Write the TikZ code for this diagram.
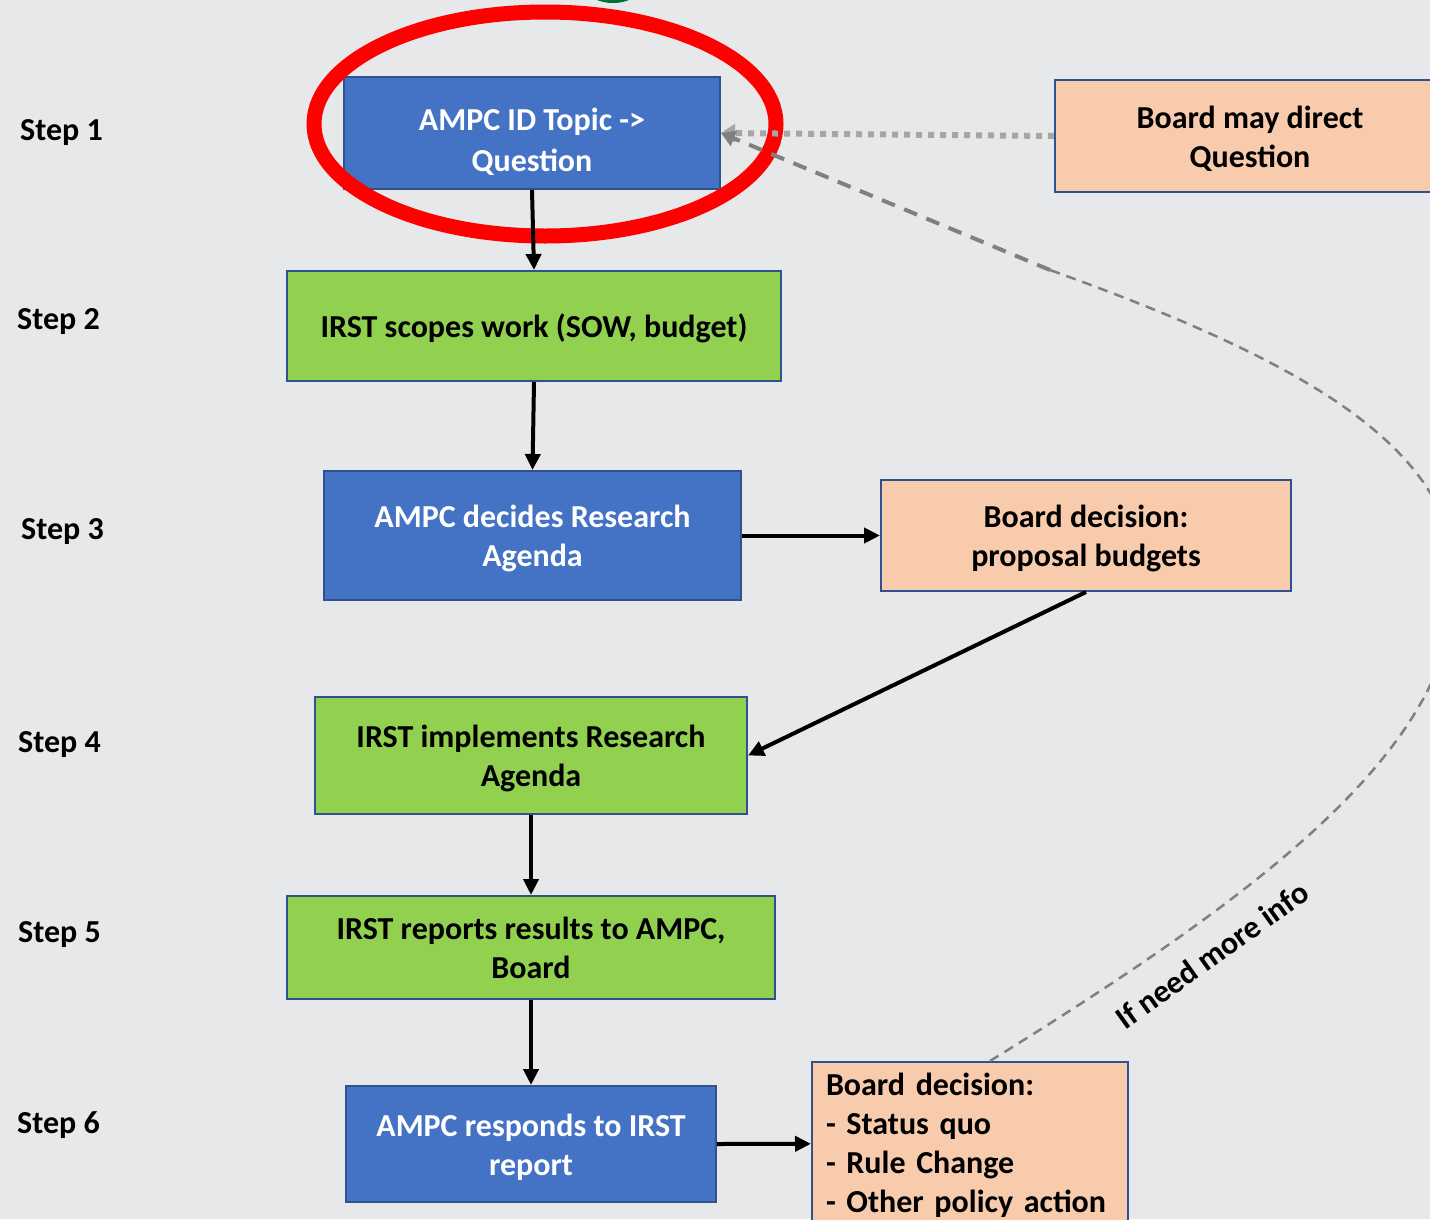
\documentclass[tikz,border=0pt]{standalone}
\usepackage{fontspec}
\setmainfont{Carlito}
\usetikzlibrary{arrows.meta}
\definecolor{bg}{RGB}{231,232,234}
\definecolor{bluefill}{RGB}{68,114,196}
\definecolor{boxline}{RGB}{47,82,143}
\definecolor{greenfill}{RGB}{146,208,80}
\definecolor{peach}{RGB}{248,203,173}
\definecolor{dotgray}{RGB}{166,166,166}
\definecolor{dashgray}{RGB}{128,128,128}
\definecolor{darkgreen}{RGB}{0,112,60}
\newcommand{\boxtext}[2][4pt]{\raisebox{-#1}[\height][\depth]{\begin{tabular}{@{}c@{}}#2\end{tabular}}}
\newcommand{\boxtextl}[2][2pt]{\raisebox{-#1}[\height][\depth]{\begin{tabular}{@{}l@{}}#2\end{tabular}}}
\begin{document}
\begin{tikzpicture}[x=1pt,y=-1pt,
  txt/.style={font=\fontsize{32}{39}\selectfont\bfseries},
  box/.style={txt, draw=boxline, line width=2pt, inner sep=0pt},
  bluebox/.style={box, fill=bluefill, text=white},
  greenbox/.style={box, fill=greenfill, text=black},
  peachbox/.style={box, fill=peach, text=black},
  steplabel/.style={txt, anchor=west, inner sep=0pt},
  flow/.style={line width=4pt, -{Triangle[length=16pt,width=15pt]}},
]
\useasboundingbox (0,0) rectangle (1430,1219);
\clip (0,0) rectangle (1430,1219);
\fill[bg] (0,0) rectangle (1430,1219);

% decorative shapes
\fill[darkgreen] (613,-10) ellipse [x radius=25, y radius=13];

% step labels
\node[steplabel] (s1) at (20,133) {Step 1};
\node[steplabel] (s2) at (17,322) {Step 2};
\node[steplabel] (s3) at (21,532) {Step 3};
\node[steplabel] (s4) at (18,745) {Step 4};
\node[steplabel] (s5) at (18,935) {Step 5};
\node[steplabel] (s6) at (17,1125) {Step 6};

% boxes
\node[bluebox, font=\fontsize{32}{41}\selectfont\bfseries,
  minimum width=376pt, minimum height=112pt] (b1) at (532,133) {\boxtext[10pt]{AMPC ID Topic -{}>\\Question}};
\node[greenbox, minimum width=494pt, minimum height=110pt] (b2) at (534,326) {\boxtext{IRST scopes work (SOW, budget)}};
\node[bluebox, minimum width=417pt, minimum height=129pt] (b3) at (532.5,535.5) {\boxtext{AMPC decides Research\\Agenda}};
\node[peachbox, minimum width=410pt, minimum height=111pt] (p3) at (1086,535.5) {\boxtext{Board decision:\\proposal budgets}};
\node[greenbox, minimum width=432pt, minimum height=117pt] (b4) at (531,755.5) {\boxtext{IRST implements Research\\Agenda}};
\node[greenbox, minimum width=488pt, minimum height=103pt] (b5) at (531,947.5) {\boxtext{IRST reports results to AMPC,\\Board}};
\node[bluebox, minimum width=370pt, minimum height=116pt] (b6) at (531,1144) {\boxtext{AMPC responds to IRST\\report}};
\node[peachbox, minimum width=316pt, minimum height=163.5pt, text width=288pt] (p6) at (970,1143.75) {\boxtextl{Board decision:\\- Status quo\\- Rule Change\\- Other policy action}};
\node[peachbox, minimum width=390pt, minimum height=112pt] (p1) at (1250,136) {\boxtext{Board may direct\\Question}};

% red highlight ellipse
\draw[red, line width=15pt] (545,124) ellipse [x radius=231, y radius=112];

% main flow
\draw[flow] (b1.south) -- (b2.north);
\draw[flow] (b2.south) -- (b3.north);
\draw[flow] (b3.east) -- (p3.west);
\draw[flow] (p3.south) -- (b4.east);
\draw[flow] (b4.south) -- (b5.north);
\draw[flow] (b5.south) -- (b6.north);
\draw[flow] (b6.east) -- (p6.west);

% feedback connectors
\draw[dotgray, line width=6pt, dash pattern=on 6pt off 6pt, -{Triangle[length=14pt,width=18pt]}] (p1.west) -- (b1.east);
\coordinate (bend) at (1050,270);
\draw[dashgray, line width=2.5pt, dash pattern=on 10pt off 7pt]
  ([xshift=20pt]p6.north) .. controls (1250,900) and (1440,760) .. (1455,600)
  .. controls (1470,450) and (1300,360) .. (bend);
\draw[dashgray, line width=4pt, dash pattern=on 14pt off 10pt, -{Triangle[length=14pt,width=16pt]}] (bend) -- (b1.east);
\node[txt, rotate=35.5, inner sep=0pt] (info) at (1212,955) {If need more info};
\end{tikzpicture}
\end{document}
